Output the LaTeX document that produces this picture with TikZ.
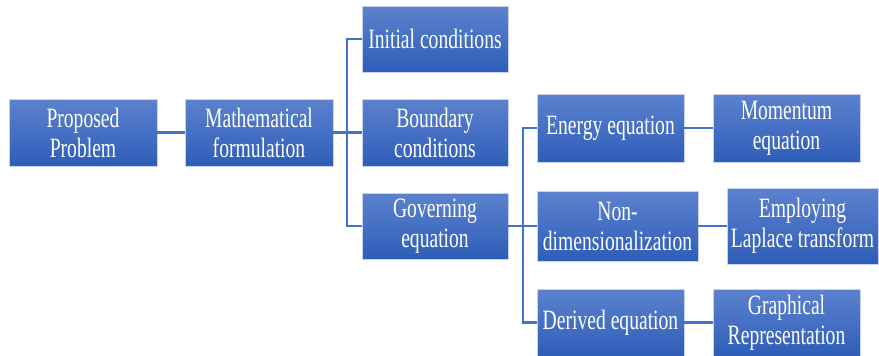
\documentclass[tikz,border=0pt]{standalone}
\usepackage{fontspec}
\setmainfont{Liberation Serif}[FakeStretch=0.70]
\definecolor{btop}{HTML}{5C82CE}
\definecolor{bbot}{HTML}{2E5DB8}
\definecolor{lnk}{HTML}{4472C4}
\definecolor{bord}{HTML}{C9D4EC}
\tikzset{
  bx/.style={rectangle, top color=btop, bottom color=bbot, draw=bord, line width=0.6pt,
    text=white, align=center, inner sep=0pt, font=\fontsize{28}{30}\selectfont},
  lk/.style={draw=lnk, line width=2.2pt}
}
\begin{document}
\begin{tikzpicture}[x=1pt,y=-1pt]
\useasboundingbox (0,0) rectangle (879,356);
\node[bx, minimum width=148pt, minimum height=67pt] (PP) at (83,132.5) {Proposed\\Problem};
\node[bx, minimum width=148pt, minimum height=67pt] (MF) at (259,132.5) {Mathematical\\formulation};
\node[bx, minimum width=146pt, minimum height=66pt] (IC) at (435,39) {Initial conditions};
\node[bx, minimum width=146pt, minimum height=67pt] (BC) at (435,132.5) {Boundary\\conditions};
\node[bx, minimum width=146pt, minimum height=66pt] (GE) at (435,226) {Governing\\equation};
\node[bx, minimum width=147pt, minimum height=68pt] (EE) at (610.5,128) {Energy equation};
\node[bx, minimum width=147pt, minimum height=68pt] (ME) at (786.5,128) {Momentum\\equation};
\node[bx, minimum width=161pt, minimum height=70pt] (ND) at (617.5,226) {Non-\\dimensionalization};
\node[bx, minimum width=151pt, minimum height=76pt] (EL) at (802.5,226) {Employing\\Laplace transform};
\node[bx, minimum width=147pt, minimum height=67pt] (DE) at (610.5,322.5) {Derived equation};
\node[bx, minimum width=147pt, minimum height=67pt] (GR) at (786.5,322.5) {Graphical\\Representation};
\draw[lk] (PP.east) -- (MF.west);
\draw[lk] (MF.east) -- (BC.west);
\draw[lk] (IC.west) -- ++(-15,0) |- (GE.west);
\draw[lk] (GE.east) -- (ND.west);
\draw[lk] (EE.west) -- ++(-14,0) |- (DE.west);
\draw[lk] (EE.east) -- (ME.west);
\draw[lk] (ND.east) -- (EL.west);
\draw[lk] (DE.east) -- (GR.west);
\end{tikzpicture}
\end{document}
